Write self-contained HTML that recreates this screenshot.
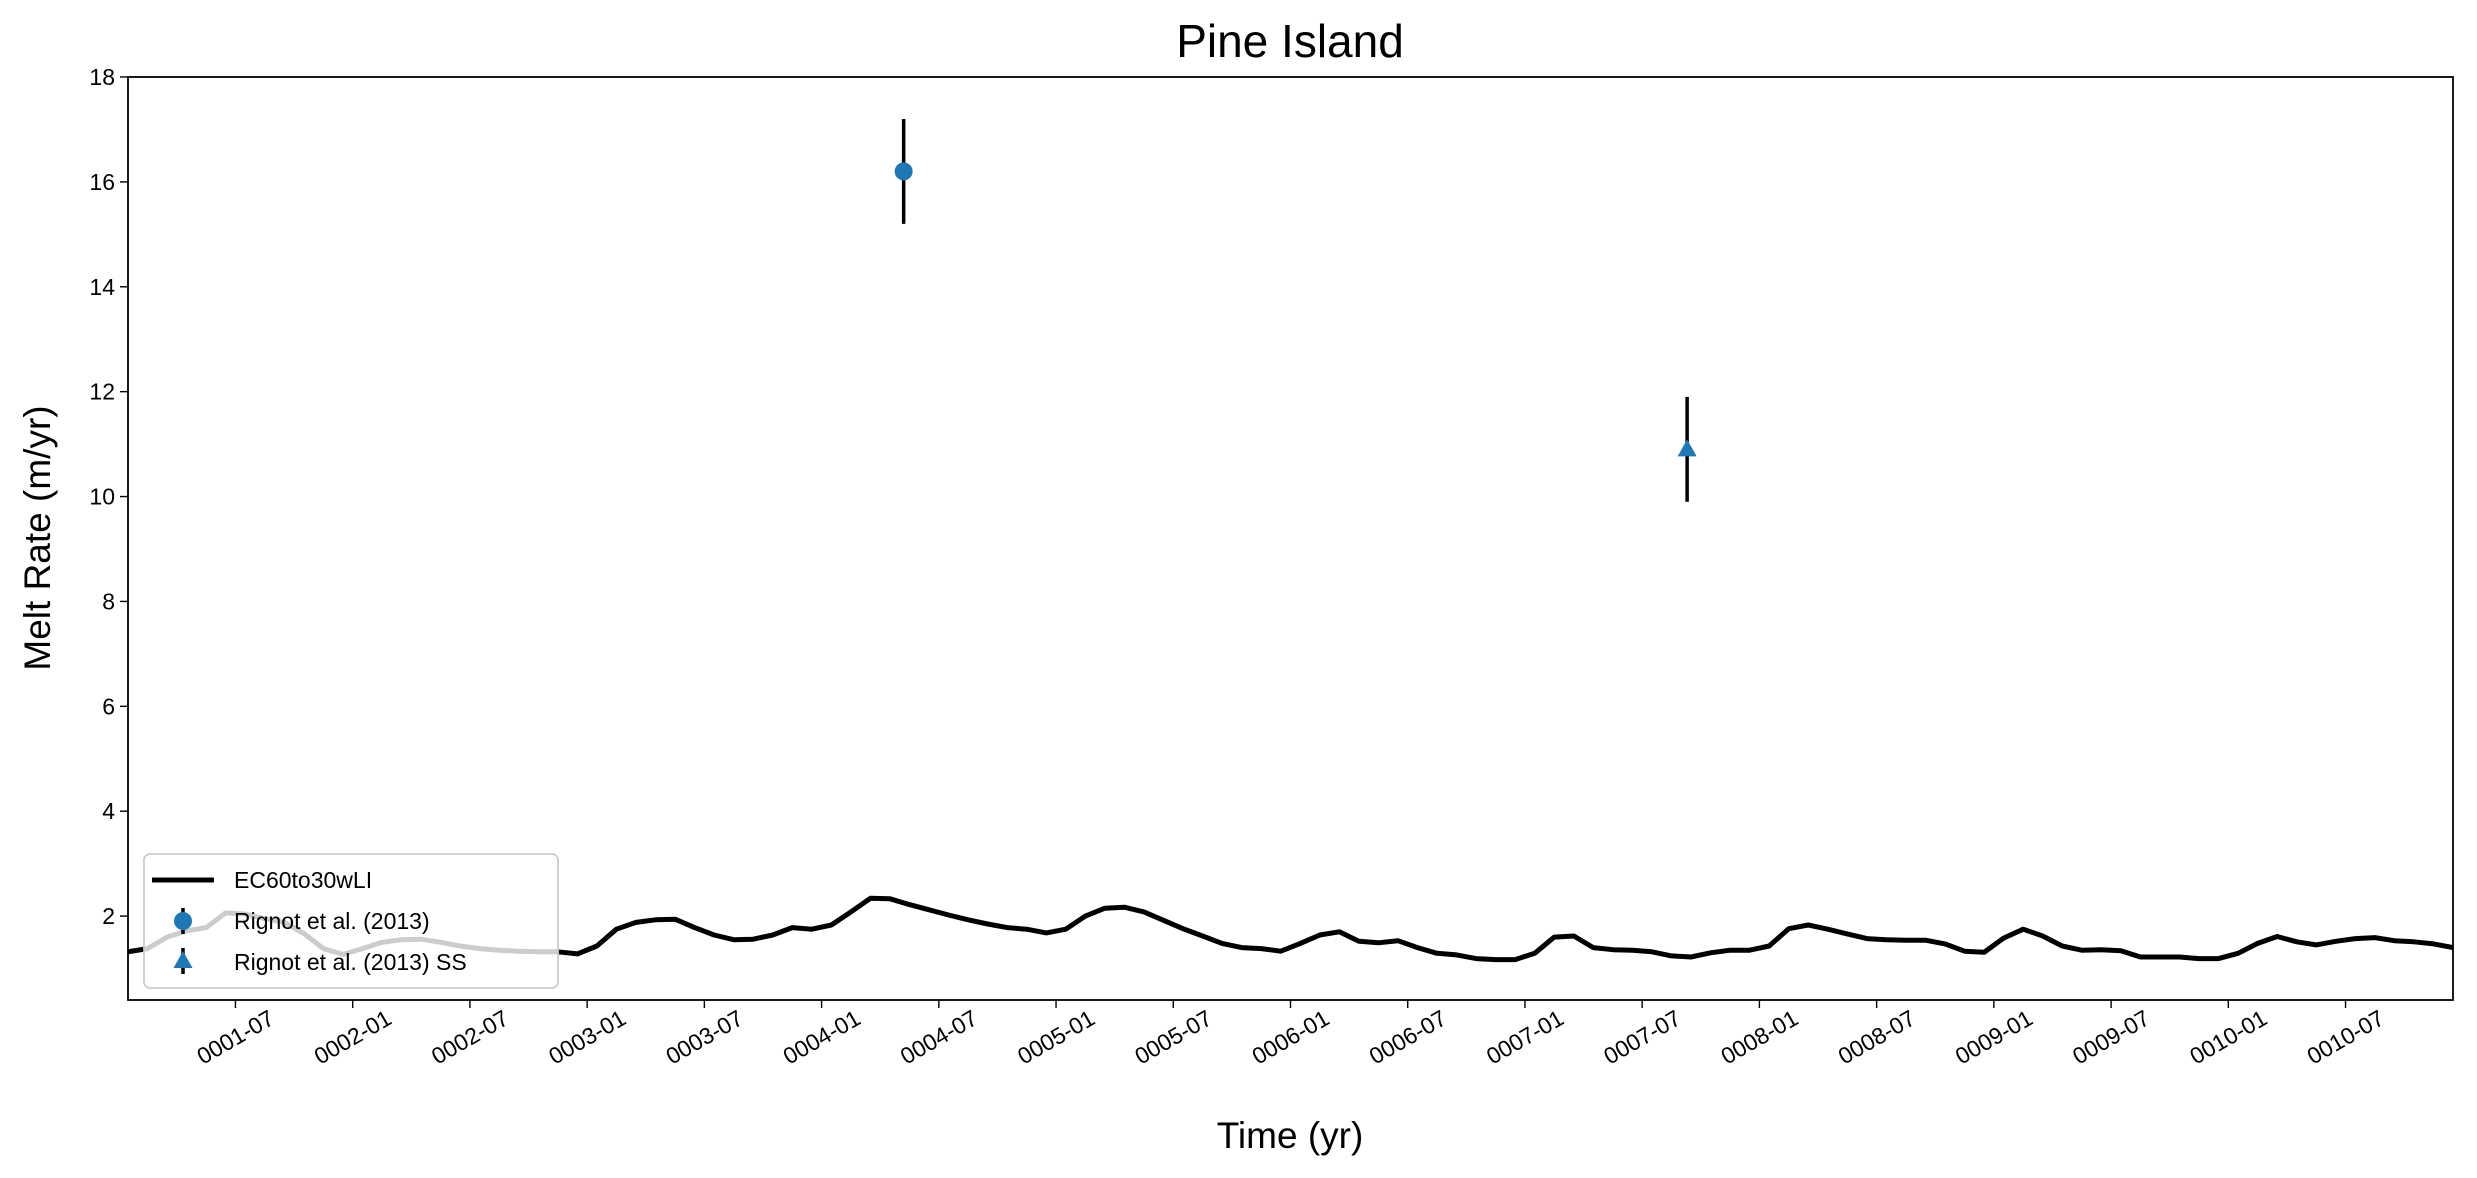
<!DOCTYPE html>
<html><head><meta charset="utf-8"><style>
html,body{margin:0;padding:0;background:#fff;}
svg{display:block;font-family:"Liberation Sans","DejaVu Sans",sans-serif;}
</style></head><body>
<svg id="chart" width="2477" height="1178" viewBox="0 0 2477 1178" xmlns="http://www.w3.org/2000/svg">
<rect x="0" y="0" width="2477" height="1178" fill="#fff"/>
<text x="1290" y="57" font-size="46" text-anchor="middle">Pine Island</text>
<text x="1290" y="1148" font-size="37" text-anchor="middle">Time (yr)</text>
<text x="0" y="0" font-size="37" text-anchor="middle" transform="translate(50,538) rotate(-90)">Melt Rate (m/yr)</text>
<g id="plot"></g>
</svg>
<script>
const modelValues = [1.32,1.38,1.60,1.72,1.78,2.06,2.04,1.95,1.88,1.67,1.38,1.27,1.38,1.50,1.55,1.56,1.50,1.43,1.38,1.35,1.33,1.32,1.32,1.28,1.43,1.75,1.88,1.93,1.94,1.78,1.64,1.55,1.56,1.64,1.78,1.75,1.83,2.08,2.34,2.33,2.22,2.12,2.02,1.93,1.85,1.78,1.75,1.68,1.75,2.00,2.15,2.17,2.08,1.92,1.76,1.62,1.48,1.40,1.38,1.33,1.48,1.64,1.70,1.52,1.49,1.53,1.40,1.29,1.26,1.19,1.17,1.17,1.29,1.60,1.62,1.40,1.36,1.35,1.32,1.24,1.22,1.30,1.35,1.35,1.43,1.76,1.83,1.75,1.66,1.57,1.55,1.54,1.54,1.47,1.33,1.31,1.58,1.75,1.62,1.43,1.35,1.36,1.34,1.22,1.22,1.22,1.19,1.19,1.29,1.48,1.61,1.51,1.45,1.52,1.57,1.59,1.53,1.51,1.47,1.40];
const obsMonths = [40.2];
const obsValues = [16.2];
const obsErrors = [1.0];
const ssMonths = [80.3];
const ssValues = [10.9];
const ssErrors = [1.0];
const yTicks = [2,4,6,8,10,12,14,16,18];
const xTickLabels = ["0001-07","0002-01","0002-07","0003-01","0003-07","0004-01","0004-07","0005-01","0005-07","0006-01","0006-07","0007-01","0007-07","0008-01","0008-07","0009-01","0009-07","0010-01","0010-07"];
const xTickMonths = [6,12,18,24,30,36,42,48,54,60,66,72,78,84,90,96,102,108,114];

const L=128,R=2453,T=77,B=1000;
const yMin=0.4,yMax=18;
const tMin=0.5,tMax=modelValues.length-0.5;
const X=t=>L+(t-tMin)/(tMax-tMin)*(R-L);
const Y=v=>B-(v-yMin)/(yMax-yMin)*(B-T);
const NS="http://www.w3.org/2000/svg";
const g=document.getElementById('plot');
function mk(tag,attrs,parent){const e=document.createElementNS(NS,tag);for(const k in attrs)e.setAttribute(k,attrs[k]);(parent||g).appendChild(e);return e;}

// clip
const defs=mk('defs',{});
const cp=mk('clipPath',{id:'clip'},defs);mk('rect',{x:L,y:T,width:R-L,height:B-T},cp);

// model line
let d='';modelValues.forEach((v,i)=>{d+=(i?'L':'M')+X(i+0.5).toFixed(1)+','+Y(v).toFixed(1);});
const line=mk('path',{d:d,fill:'none',stroke:'#000','stroke-width':5,'stroke-linejoin':'round','clip-path':'url(#clip)'});



// obs points
obsMonths.forEach((t,i)=>{
  const eb=mk('line',{x1:X(t),x2:X(t),y1:Y(obsValues[i]-obsErrors[i]),y2:Y(obsValues[i]+obsErrors[i]),stroke:'#000','stroke-width':3.5});
  
  
  const c=mk('circle',{cx:X(t),cy:Y(obsValues[i]),r:9,fill:'#1f77b4'});
  
  
});
ssMonths.forEach((t,i)=>{
  const eb=mk('line',{x1:X(t),x2:X(t),y1:Y(ssValues[i]-ssErrors[i]),y2:Y(ssValues[i]+ssErrors[i]),stroke:'#000','stroke-width':3.5});
  
  
  const cx=X(t),cy=Y(ssValues[i]);
  const p=mk('polygon',{points:`${cx},${cy-10} ${cx-9.5},${cy+7} ${cx+9.5},${cy+7}`,fill:'#1f77b4'});
  
  
});

// axes frame
const fr=mk('rect',{x:L,y:T,width:R-L,height:B-T,fill:'none',stroke:'#000','stroke-width':1.8});



// y ticks
yTicks.forEach(v=>{
  const tk=mk('line',{x1:L-8,x2:L,y1:Y(v),y2:Y(v),stroke:'#000','stroke-width':1.4});
  
  
  const tx=mk('text',{x:L-13,y:Y(v)+8,'font-size':23,'text-anchor':'end'});
  tx.textContent=v;
  
  
});
// x ticks
xTickMonths.forEach((t,i)=>{
  const x=X(t);
  const tk=mk('line',{x1:x,x2:x,y1:B,y2:B+8,stroke:'#000','stroke-width':1.4});
  
  
  const tx=mk('text',{x:0,y:8,'font-size':23,'text-anchor':'middle',transform:`translate(${x},1037) rotate(-30)`});
  tx.textContent=xTickLabels[i];
  
  
});

// legend
const lg=mk('g',{});


mk('rect',{x:144,y:854,width:414,height:134,rx:6,fill:'rgba(255,255,255,0.8)',stroke:'#cccccc','stroke-width':1.8},lg);
const e1=mk('g',{},lg);


mk('line',{x1:152,x2:214,y1:880,y2:880,stroke:'#000','stroke-width':5},e1);
mk('text',{x:234,y:888,'font-size':23},e1).textContent='EC60to30wLI';
const e2=mk('g',{},lg);


mk('line',{x1:183,x2:183,y1:908,y2:934,stroke:'#000','stroke-width':3.5},e2);
mk('circle',{cx:183,cy:921,r:9,fill:'#1f77b4'},e2);
mk('text',{x:234,y:929,'font-size':23},e2).textContent='Rignot et al. (2013)';
const e3=mk('g',{},lg);


mk('line',{x1:183,x2:183,y1:948,y2:974,stroke:'#000','stroke-width':3.5},e3);
mk('polygon',{points:'183,951 173.5,968 192.5,968',fill:'#1f77b4'},e3);
mk('text',{x:234,y:970,'font-size':23},e3).textContent='Rignot et al. (2013) SS';
</script>
</body></html>
